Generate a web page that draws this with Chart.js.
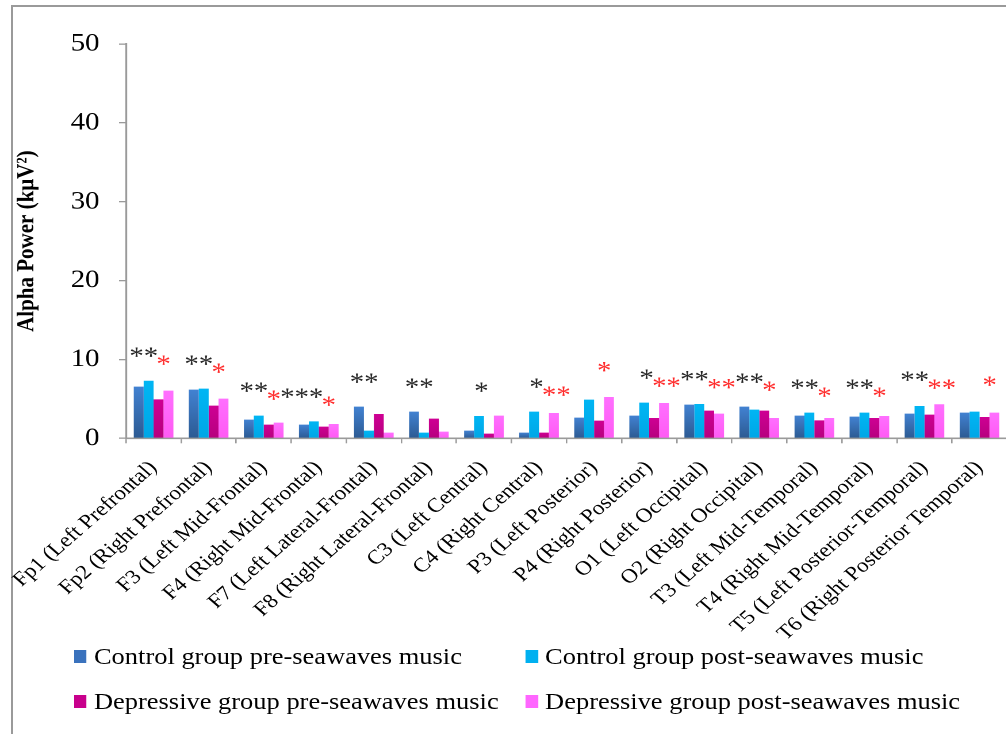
<!DOCTYPE html>
<html>
<head>
<meta charset="utf-8">
<script src="https://cdn.jsdelivr.net/npm/chart.js@4/dist/chart.umd.min.js"></script>
<style>
  html, body { margin: 0; padding: 0; background: #fff; overflow: hidden; width: 1006px; height: 734px; }
  #frame { position: absolute; left: 11px; top: 5px; width: 1000px; height: 740px;
           border-left: 2px solid #9a9a9a; border-top: 2px solid #9a9a9a; box-sizing: border-box; }
  /* the figure is laid out on a narrower sheet and stretched sideways */
  #sheet { position: absolute; left: 0; top: 0; width: 880px; height: 734px;
           transform: scaleX(1.15); transform-origin: 0 0; }
  #wrap { position: absolute; left: 0; top: 0; width: 880px; height: 734px; }
  .lg { position: absolute; font-family: "Liberation Serif", "Times New Roman", serif; font-size: 23px;
        color: #000; white-space: nowrap; line-height: 1; }
  .sw { position: absolute; width: 11.3px; height: 13px; }
</style>
</head>
<body>
<div id="frame"></div>
<div id="sheet">
  <div id="wrap"><canvas id="chart"></canvas></div>
  <div id="legend"></div>
</div>
<script>
// Electrode sites along the x axis
const categories = [
  "Fp1 (Left Prefrontal)", "Fp2 (Right Prefrontal)", "F3 (Left Mid-Frontal)", "F4 (Right Mid-Frontal)",
  "F7 (Left Lateral-Frontal)", "F8 (Right Lateral-Frontal)", "C3 (Left Central)", "C4 (Right Central)",
  "P3 (Left Posterior)", "P4 (Right Posterior)", "O1 (Left Occipital)", "O2 (Right Occipital)",
  "T3 (Left Mid-Temporal)", "T4 (Right Mid-Temporal)", "T5 (Left Posterior-Temporal)", "T6 (Right Posterior Temporal)"
];

// Mean alpha power (kμV²) per group and condition
const controlPre  = [6.55, 6.17, 2.37, 1.73, 4.01, 3.38, 0.97, 0.72, 2.62, 2.87, 4.27, 4.01, 2.87, 2.75, 3.13, 3.25];
const controlPost = [7.30, 6.30, 2.87, 2.15, 0.97, 0.72, 2.83, 3.38, 4.90, 4.52, 4.35, 3.63, 3.25, 3.25, 4.10, 3.38];
const depPre      = [4.94, 4.14, 1.73, 1.48, 3.08, 2.49, 0.59, 0.72, 2.24, 2.58, 3.51, 3.51, 2.28, 2.58, 3.00, 2.70];
const depPost     = [6.04, 5.03, 1.99, 1.82, 0.72, 0.84, 2.87, 3.21, 5.24, 4.48, 3.13, 2.58, 2.58, 2.83, 4.31, 3.25];

// Significance marks: control group (black) and depressive group (red)
const controlStars    = ["**", "**", "**", "***", "**", "**", "*", "*", "", "*", "**", "**", "**", "**", "**", ""];
const depressiveStars = ["*", "*", "*", "*", "", "", "", "**", "*", "**", "**", "*", "*", "*", "**", "*"];

const seriesNames = [
  "Control group pre-seawaves music", "Control group post-seawaves music",
  "Depressive group pre-seawaves music", "Depressive group post-seawaves music"
];
const yTicks = [0, 10, 20, 30, 40, 50];

const SERIF = '"Liberation Serif", "Times New Roman", serif';
const fills = [
  ["#4282d2", "#2c5a92"],
  ["#00b6f4", "#00a6e6"],
  ["#cf0094", "#b6007e"],
  ["#ff70ff", "#ff5af4"]
];
const legendSwatch = ["#3a72bd", "#00b0f0", "#c8008c", "#ff66ff"];

function barFill(k) {
  return (ctx) => {
    const chart = ctx.chart;
    const ys = chart.scales && chart.scales.y;
    if (!ys || !ctx.parsed) return fills[k][0];
    const top = ys.getPixelForValue(ctx.parsed.y);
    const base = ys.getPixelForValue(0);
    if (!isFinite(top) || !isFinite(base) || top === base) return fills[k][0];
    const g = chart.ctx.createLinearGradient(0, top, 0, base);
    g.addColorStop(0, fills[k][0]);
    g.addColorStop(1, fills[k][1]);
    return g;
  };
}

const values = [controlPre, controlPost, depPre, depPost];

const starPlugin = {
  id: 'significanceStars',
  afterDatasetsDraw(chart) {
    const { ctx, scales: { x, y } } = chart;
    const size = 25;
    ctx.save();
    ctx.font = size + 'px ' + SERIF;
    ctx.textBaseline = 'alphabetic';
    categories.forEach((c, i) => {
      const cx = x.getPixelForValue(i);
      const top = y.getPixelForValue(Math.max(controlPre[i], controlPost[i], depPre[i], depPost[i]));
      const blackMid = top - 29;
      const redMid = controlStars[i] ? blackMid + 8 : top - 31;
      if (controlStars[i]) {
        ctx.fillStyle = '#262626';
        ctx.textAlign = 'right';
        ctx.fillText(controlStars[i], cx + 4, blackMid + size * 0.5);
      }
      if (depressiveStars[i]) {
        ctx.fillStyle = '#ff2a2a';
        ctx.textAlign = 'left';
        ctx.fillText(depressiveStars[i], cx + 2.5, redMid + size * 0.5);
      }
    });
    ctx.restore();
  }
};

const canvas = document.getElementById('chart');
new Chart(canvas, {
  type: 'bar',
  data: {
    labels: categories,
    datasets: values.map((v, k) => ({
      label: seriesNames[k],
      data: v,
      backgroundColor: barFill(k),
      borderWidth: 0,
      categoryPercentage: 0.72,
      barPercentage: 1.0
    }))
  },
  options: {
    responsive: true,
    maintainAspectRatio: false,
    animation: false,
    devicePixelRatio: 2,
    layout: { padding: { left: 3.5, right: 4.3, top: 44, bottom: 0 } },
    plugins: { legend: { display: false }, tooltip: { enabled: false } },
    scales: {
      x: {
        offset: true,
        grid: { offset: true, drawOnChartArea: false, drawTicks: true, tickLength: 5, color: '#9a9a9a', lineWidth: 1.3 },
        border: { color: '#9a9a9a', width: 1.6 },
        ticks: {
          autoSkip: false, minRotation: 45, maxRotation: 45, padding: 13,
          color: '#000', font: { family: SERIF, size: 20 }
        },
        afterFit(scale) {
          scale.height = 295.7;
          // long rotated labels may run left under the y axis; keep the plot edge fixed
          scale.paddingLeft = 0;
          scale.paddingRight = 0;
        }
      },
      y: {
        min: 0, max: 50,
        afterBuildTicks(scale) { scale.ticks = yTicks.map(v => ({ value: v })); },
        grid: { drawOnChartArea: false, drawTicks: true, tickLength: 6.1, color: '#9a9a9a', lineWidth: 1.3 },
        border: { color: '#9a9a9a', width: 1.6 },
        ticks: { padding: 17, color: '#000', font: { family: SERIF, size: 25 } },
        title: {
          display: true, text: 'Alpha Power (kμV²)', color: '#000',
          font: { family: SERIF, size: 21, weight: 'bold' },
          padding: { top: 7.5, bottom: 0 }
        },
        afterFit(scale) { scale.width = 106.1; }
      }
    }
  },
  plugins: [starPlugin]
});

// Legend in two aligned columns beneath the plot
const legend = document.getElementById('legend');
const slots = [
  { sw: 63.5, tx: 81.7, row: 0 }, { sw: 456.5, tx: 474, row: 0 },
  { sw: 63.5, tx: 81.7, row: 1 }, { sw: 456.5, tx: 474, row: 1 }
];
const rowMid = [656, 701];
seriesNames.forEach((name, k) => {
  const s = slots[k];
  const sw = document.createElement('div');
  sw.className = 'sw';
  sw.style.left = s.sw + 'px';
  sw.style.top = (rowMid[s.row] - 6.5) + 'px';
  sw.style.background = legendSwatch[k];
  legend.appendChild(sw);
  const tx = document.createElement('div');
  tx.className = 'lg';
  tx.style.left = s.tx + 'px';
  tx.style.top = (rowMid[s.row] - 11) + 'px';
  tx.textContent = name;
  legend.appendChild(tx);
});
</script>
</body>
</html>
